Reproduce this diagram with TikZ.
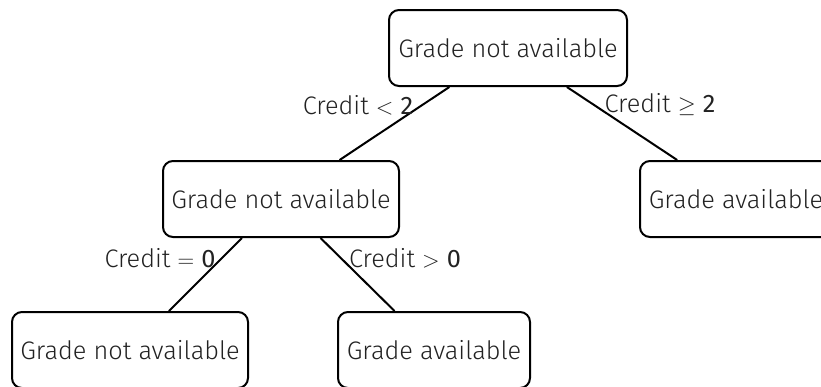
\documentclass[tikz,border=0pt]{standalone}
\usepackage{fontspec}
\setmainfont{Fira Sans Light}
\newfontfamily\firareg{Fira Sans}
\definecolor{txt}{HTML}{222222}
\newcommand\dgt[1]{{\firareg #1}}
\begin{document}
\begin{tikzpicture}[x=0.75pt,y=-0.75pt,
  box/.style={draw=black, line width=1.5pt, rounded corners=7.5pt, minimum height=57pt, inner sep=0pt, text=txt, font=\fontsize{19}{23}\selectfont},
  lbl/.style={text=txt, inner sep=0pt, font=\fontsize{19}{23}\selectfont},
  conn/.style={draw=black, line width=1.5pt}]
\clip (0,0) rectangle (821,386);
\node[box, minimum width=178.5pt] (top) at (508,48) {Grade not available};
\node[box, minimum width=177pt] (mid) at (281,199) {Grade not available};
\node[box, minimum width=144pt] (right) at (736,199) {Grade available};
\node[box, minimum width=177pt] (bl) at (130,350) {Grade not available};
\node[box, minimum width=144pt] (br) at (434,350) {Grade available};
\draw[conn] (top) -- (mid);
\draw[conn] (top) -- (right);
\draw[conn] (mid) -- (bl);
\draw[conn] (mid) -- (br);
\node[lbl] (l1) at (358,105) {Credit $<$ \dgt{2}};
\node[lbl] (l2) at (660,105) {Credit $\geq$ \dgt{2}};
\node[lbl] (l3) at (160,258) {Credit $=$ \dgt{0}};
\node[lbl] (l4) at (405,258) {Credit $>$ \dgt{0}};
\end{tikzpicture}
\end{document}
